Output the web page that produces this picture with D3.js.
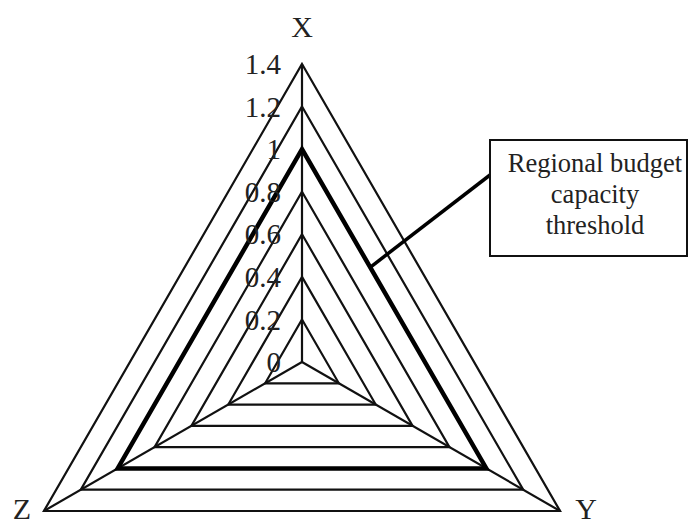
<!DOCTYPE html>
<html>
<head>
<meta charset="utf-8">
<script src="https://cdn.jsdelivr.net/npm/d3@7"></script>
<style>
  body { margin: 0; background: #fff; }
  text { font-family: "Liberation Serif", "Times New Roman", serif; fill: #222; }
</style>
</head>
<body>
<div id="radar"></div>
<script>
// chart data
var axes = ["X", "Y", "Z"];
var levels = [0.2, 0.4, 0.6, 0.8, 1, 1.2, 1.4];
var tickLabels = ["0", "0.2", "0.4", "0.6", "0.8", "1", "1.2", "1.4"];
var threshold = [1, 1, 1];
var calloutText = ["Regional budget", "capacity", "threshold"];

var width = 689, height = 524;
var cx = 302, cy = 362;

var svg = d3.select("#radar")
  .append("svg")
    .attr("width", width)
    .attr("height", height);

var r = d3.scaleLinear()
  .domain([0, 1.4])
  .range([0, 298]);

// X at top, Y bottom right, Z bottom left
var angle = d3.scaleOrdinal()
  .domain(axes)
  .range([-Math.PI / 2, Math.PI / 6, Math.PI * 5 / 6]);

function pt(axis, v) {
  return [cx + r(v) * Math.cos(angle(axis)), cy + r(v) * Math.sin(angle(axis))];
}

var line = d3.line();

// grid triangles
svg.selectAll(".grid")
  .data(levels)
  .enter()
  .append("path")
    .attr("class", "grid")
    .attr("d", function(l) { return line(axes.map(function(a) { return pt(a, l); })) + "Z"; })
    .attr("fill", "none")
    .attr("stroke", "#111")
    .attr("stroke-width", 2.2);

// spokes
svg.selectAll(".spoke")
  .data(axes)
  .enter()
  .append("line")
    .attr("class", "spoke")
    .attr("x1", cx)
    .attr("y1", cy)
    .attr("x2", function(a) { return pt(a, 1.4)[0]; })
    .attr("y2", function(a) { return pt(a, 1.4)[1]; })
    .attr("stroke", "#111")
    .attr("stroke-width", 2.2);

// threshold series
svg.append("path")
  .attr("d", line(axes.map(function(a, i) { return pt(a, threshold[i]); })) + "Z")
  .attr("fill", "none")
  .attr("stroke", "#000")
  .attr("stroke-width", 4.5)
  .attr("stroke-linejoin", "miter");

// tick labels along X axis
svg.selectAll(".tick")
  .data(tickLabels)
  .enter()
  .append("text")
    .attr("class", "tick")
    .attr("x", cx - 21)
    .attr("y", function(d) { return cy - r(+d); })
    .attr("dy", "0.35em")
    .attr("text-anchor", "end")
    .style("font-size", "29px")
    .text(function(d) { return d; });

// axis names
var axisLabelPos = { X: [302, 37], Y: [586, 519], Z: [22, 519] };
svg.selectAll(".axis-name")
  .data(axes)
  .enter()
  .append("text")
    .attr("class", "axis-name")
    .attr("x", function(a) { return axisLabelPos[a][0]; })
    .attr("y", function(a) { return axisLabelPos[a][1]; })
    .attr("text-anchor", "middle")
    .style("font-size", "30px")
    .text(function(a) { return a; });

// callout
var anchor = pt("X", 1), anchorY = pt("Y", 1);
var tLine = 0.37;
var ax = anchor[0] + (anchorY[0] - anchor[0]) * tLine,
    ay = anchor[1] + (anchorY[1] - anchor[1]) * tLine;

svg.append("line")
  .attr("x1", ax)
  .attr("y1", ay)
  .attr("x2", 490)
  .attr("y2", 175)
  .attr("stroke", "#000")
  .attr("stroke-width", 3.5);

svg.append("rect")
  .attr("x", 490)
  .attr("y", 140)
  .attr("width", 197)
  .attr("height", 116)
  .attr("fill", "#fff")
  .attr("stroke", "#111")
  .attr("stroke-width", 2);

svg.selectAll(".callout")
  .data(calloutText)
  .enter()
  .append("text")
    .attr("class", "callout")
    .attr("x", 595)
    .attr("y", function(d, i) { return 172 + i * 31; })
    .attr("text-anchor", "middle")
    .style("font-size", "26.5px")
    .text(function(d) { return d; });
</script>
</body>
</html>
